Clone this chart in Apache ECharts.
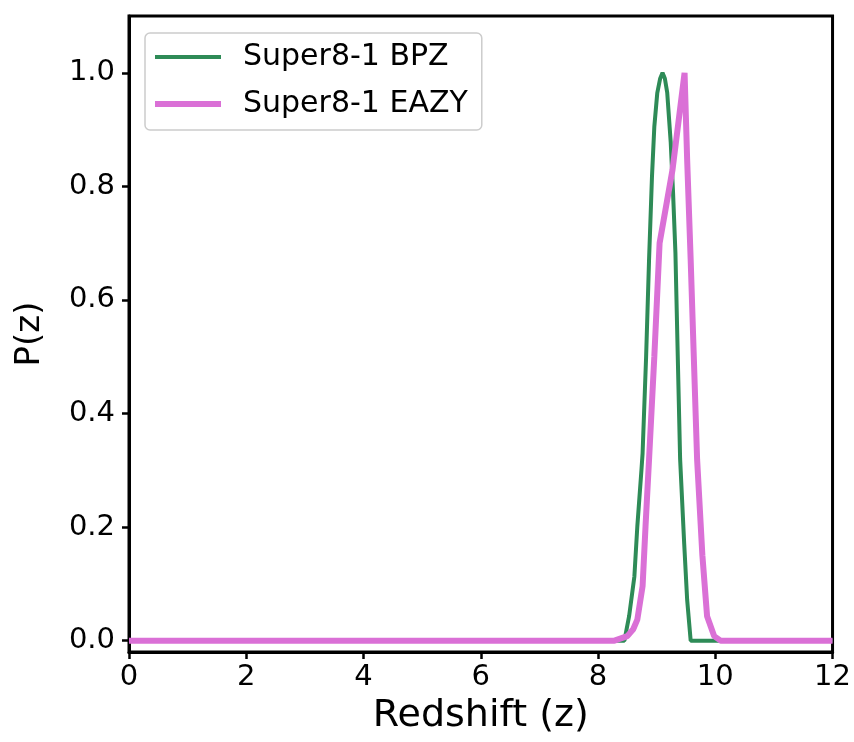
<!DOCTYPE html>
<html>
<head>
<meta charset="utf-8">
<script src="https://cdn.jsdelivr.net/npm/echarts@6/dist/echarts.min.js"></script>
<style>
html,body{margin:0;padding:0;background:#fff;}
#chart{width:854px;height:742px;}
</style>
</head>
<body>
<div id="chart"></div>
<script>
// Super8-1 BPZ photometric redshift PDF
const bpzZ = [0, 8.45, 8.53, 8.62, 8.67, 8.74, 8.76, 8.82, 8.87, 8.92, 8.96, 9.01, 9.06, 9.10, 9.14, 9.18, 9.24, 9.28, 9.32, 9.36, 9.40, 9.47, 9.52, 9.58, 12];
const bpzP = [0, 0, 0.043, 0.113, 0.201, 0.30, 0.33, 0.50, 0.67, 0.817, 0.905, 0.964, 0.99, 1.0, 0.99, 0.965, 0.877, 0.788, 0.683, 0.50, 0.32, 0.17, 0.072, 0, 0];
// Super8-1 EAZY photometric redshift PDF
const eazyZ = [0, 8.28, 8.50, 8.60, 8.67, 8.76, 8.81, 8.87, 8.96, 9.05, 9.27, 9.476, 9.52, 9.58, 9.69, 9.78, 9.86, 9.98, 10.09, 12];
const eazyP = [0, 0, 0.008, 0.02, 0.037, 0.096, 0.201, 0.319, 0.50, 0.70, 0.829, 1.0, 0.847, 0.671, 0.319, 0.15, 0.043, 0.008, 0, 0];
const xTicks = [0, 2, 4, 6, 8, 10, 12];
const yTicks = [0, 0.2, 0.4, 0.6, 0.8, 1.0];
const seriesNames = ['Super8-1 BPZ', 'Super8-1 EAZY'];

const zip = (a, b) => a.map((v, i) => [v, b[i]]);
const FONT = 'DejaVu Sans';

const chart = echarts.init(document.getElementById('chart'), null, {renderer: 'canvas'});
chart.setOption({
  animation: false,
  backgroundColor: '#ffffff',
  textStyle: {fontFamily: FONT, color: '#000'},
  grid: {left: 129, right: 18, top: 16, bottom: 90, show: true, borderColor: '#000', borderWidth: 3, containLabel: false},
  legend: {
    orient: 'vertical', left: 145, top: 33,
    padding: [9, 14, 11, 10],
    itemWidth: 66, itemHeight: 6, itemGap: 17,
    borderColor: '#cccccc', borderWidth: 1.5, borderRadius: 5,
    backgroundColor: 'rgba(255,255,255,0.8)',
    textStyle: {fontFamily: FONT, fontSize: 30, color: '#000', lineHeight: 30, padding: [0, 0, 0, 17]},
    data: [
      {name: seriesNames[0], icon: 'path://M0,0H66V4H0Z', itemStyle: {color: '#2e8b57'}},
      {name: seriesNames[1], icon: 'path://M0,0H66V6H0Z', itemStyle: {color: '#da70d6'}}
    ]
  },
  xAxis: {
    type: 'value', min: xTicks[0], max: xTicks[xTicks.length - 1], interval: 2,
    name: 'Redshift (z)', nameLocation: 'middle', nameGap: 44,
    nameTextStyle: {fontFamily: FONT, fontSize: 38, color: '#000'},
    axisLine: {show: true, onZero: false, lineStyle: {color: '#000', width: 3}},
    axisTick: {show: true, inside: false, length: 7, lineStyle: {color: '#000', width: 2.5}},
    axisLabel: {show: true, fontFamily: FONT, fontSize: 29, color: '#000', margin: 11, formatter: v => String(v)},
    splitLine: {show: false}
  },
  yAxis: {
    type: 'value', min: -0.02, max: 1.1,
    name: 'P(z)', nameLocation: 'middle', nameGap: 82, nameRotate: 90,
    nameTextStyle: {fontFamily: FONT, fontSize: 34, color: '#000'},
    axisLine: {show: true, onZero: false, lineStyle: {color: '#000', width: 3}},
    axisTick: {show: true, inside: false, length: 7, lineStyle: {color: '#000', width: 2.5}, customValues: yTicks},
    axisLabel: {show: true, fontFamily: FONT, fontSize: 29, color: '#000', margin: 14, customValues: yTicks, formatter: v => Number(v).toFixed(1)},
    splitLine: {show: false}
  },
  series: [
    {name: seriesNames[0], type: 'line', data: zip(bpzZ, bpzP), showSymbol: false, symbol: 'none', smooth: false,
     lineStyle: {color: '#2e8b57', width: 4}, itemStyle: {color: '#2e8b57'}, z: 2},
    {name: seriesNames[1], type: 'line', data: zip(eazyZ, eazyP), showSymbol: false, symbol: 'none', smooth: false,
     lineStyle: {color: '#da70d6', width: 6}, itemStyle: {color: '#da70d6'}, z: 3}
  ]
});
</script>
</body>
</html>
